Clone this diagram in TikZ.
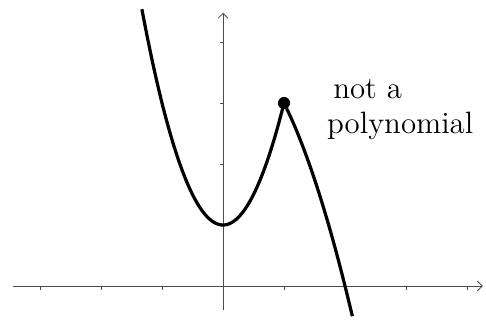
\documentclass[tikz,border=0pt]{standalone}
\usepackage{tikz}
\usetikzlibrary{arrows, arrows.meta, positioning}
\tikzstyle{axis} = [thin, black!70, ->, >=Straight Barb]
\tikzstyle{tick} = [thin, black!70]
\tikzstyle{curve} = [line width=1.5pt, black]
\tikzstyle{peakdot} = [circle, fill=black, inner sep=0pt, minimum size=0.2cm]
\tikzstyle{note} = [align=left, anchor=north west, font=\Large, inner sep=0pt]

\begin{document}
\begin{tikzpicture}
            \useasboundingbox (-3.656,-0.557) rectangle (4.311,4.689);
            \coordinate (xl) at (-3.45,0);
            \coordinate (xr) at (4.26,0);
            \coordinate (yb) at (0,-0.4);
            \coordinate (yt) at (0,4.48);
            \draw [axis] (xl) -- (xr);
            \draw [axis] (yb) -- (yt);
            \foreach \x in {-3,-2,-1,1,3,4}
                \draw [tick] (\x,0) -- (\x,-0.06);
            \foreach \y in {1,2,3,4}
                \draw [tick] (0,\y) -- (-0.05,\y);

            \draw [curve] plot [domain=-1.33:1, samples=60] (\x,{2*\x*\x+1});
            \draw [curve] plot [domain=1:2.12, samples=40] (\x,{4-\x*\x});
            \node (peak) [peakdot] at (1,3) {};
            \node (label) [note] at (1.7,3.4) {\hspace*{0.1cm}not a\\[-0.05cm]polynomial};
        \end{tikzpicture}
\end{document}
